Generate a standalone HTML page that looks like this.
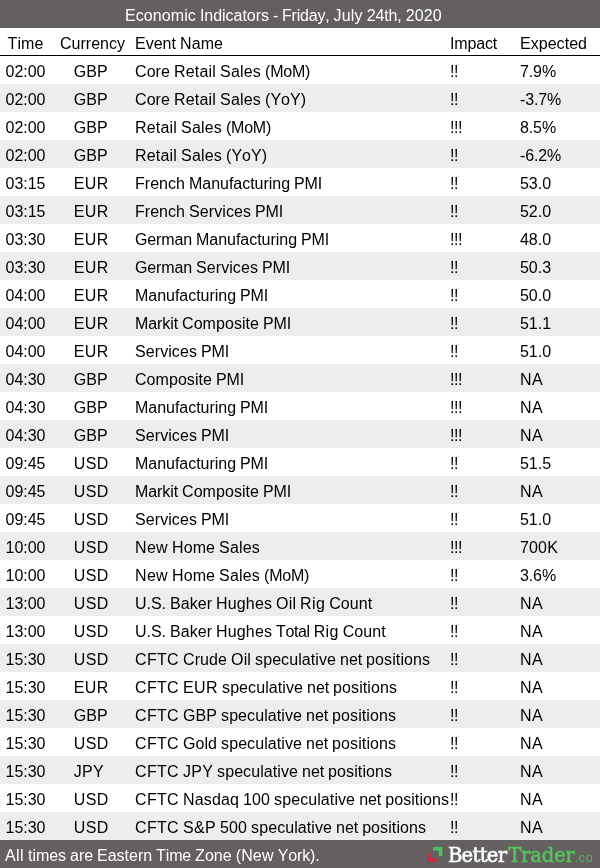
<!DOCTYPE html>
<html lang="en">
<head>
<meta charset="utf-8">
<title>Economic Indicators - Friday, July 24th, 2020</title>
<style>
html,body{margin:0;padding:0;background:#fff;}
body{width:600px;height:868px;overflow:hidden;font-family:"Liberation Sans",Arial,Helvetica,sans-serif;font-size:16px;color:#000;font-kerning:none;font-variant-ligatures:none;word-spacing:-0.4453px;}
.page{position:relative;width:600px;height:868px;overflow:hidden;background:#fff;}
.title{position:absolute;left:0;top:0;width:600px;height:28px;background:#64605f;color:#fff;line-height:32px;white-space:nowrap;overflow:hidden;}
.tt{position:absolute;left:124.9px;top:0;}
.row{position:absolute;left:0;width:600px;height:28px;line-height:32px;white-space:nowrap;}
.row.even{background:#ededed;}
.row.head{top:28px;border-bottom:1px solid #000;height:27px;}
.c{position:absolute;top:0;height:28px;}
.t{left:0;width:51px;text-align:center;}
.cur{left:73.8px;}
.head .cur{left:60px;width:62px;text-align:center;}
.ev{left:135px;}
.imp{left:450px;}
.exp{left:520px;}
.footer{position:absolute;left:0;top:840px;width:600px;height:28px;background:#64605f;color:#fff;line-height:32px;white-space:nowrap;overflow:hidden;}
.note{position:absolute;left:5px;top:0;}
.logo{position:absolute;left:0;top:0;width:600px;height:28px;}
.logo svg{position:absolute;left:420px;top:0;}
.logo span{position:absolute;top:0;line-height:32px;}
.bt{left:447.9px;font-family:"DejaVu Serif","Liberation Serif",serif;font-size:19.6px;color:#fff;-webkit-text-stroke:0.55px #fff;letter-spacing:-0.7px;}
.tr{left:508.2px;font-family:"DejaVu Serif","Liberation Serif",serif;font-size:19.6px;color:#55c45f;-webkit-text-stroke:0.55px #55c45f;letter-spacing:-0.2px;}
.co{left:574.8px;top:1.8px !important;font-size:12.5px;color:#5cc466;letter-spacing:0.6px;opacity:0.8;}
</style>
</head>
<body>
<div class="page">
<div class="title"><span class="tt"><span style="letter-spacing:.094px">Economic</span> <span style="letter-spacing:-.037px">Indicators</span> <span style="letter-spacing:-.328px">-</span> <span style="letter-spacing:-.185px">Friday,</span> <span style="letter-spacing:.137px">July</span> <span style="letter-spacing:-.117px">24th,</span> <span style="letter-spacing:.102px">2020</span></span></div>
<div class="row head"><span class="c t"><span style="letter-spacing:.111px">Time</span></span> <span class="c cur"><span style="letter-spacing:.012px">Currency</span></span> <span class="c ev"><span style="letter-spacing:.017px">Event</span> <span style="letter-spacing:.08px">Name</span></span> <span class="c imp"><span style="letter-spacing:-.169px">Impact</span></span> <span class="c exp"><span style="letter-spacing:.036px">Expected</span></span></div>
<div class="row odd" style="top:56px"><span class="c t"><span style="letter-spacing:-.008px">02:00</span></span> <span class="c cur"><span style="letter-spacing:.07px">GBP</span></span> <span class="c ev"><span style="letter-spacing:.08px">Core</span> <span style="letter-spacing:.182px">Retail</span> <span style="letter-spacing:.195px">Sales</span> <span style="letter-spacing:-.242px">(MoM)</span></span> <span class="c imp"><span style="letter-spacing:-.445px">!!</span></span> <span class="c exp"><span style="letter-spacing:-.117px">7.9%</span></span></div>
<div class="row even" style="top:84px"><span class="c t"><span style="letter-spacing:-.008px">02:00</span></span> <span class="c cur"><span style="letter-spacing:.07px">GBP</span></span> <span class="c ev"><span style="letter-spacing:.08px">Core</span> <span style="letter-spacing:.182px">Retail</span> <span style="letter-spacing:.195px">Sales</span> <span style="letter-spacing:.02px">(YoY)</span></span> <span class="c imp"><span style="letter-spacing:-.445px">!!</span></span> <span class="c exp"><span style="letter-spacing:-.159px">-3.7%</span></span></div>
<div class="row odd" style="top:112px"><span class="c t"><span style="letter-spacing:-.008px">02:00</span></span> <span class="c cur"><span style="letter-spacing:.07px">GBP</span></span> <span class="c ev"><span style="letter-spacing:.182px">Retail</span> <span style="letter-spacing:.195px">Sales</span> <span style="letter-spacing:-.242px">(MoM)</span></span> <span class="c imp"><span style="letter-spacing:-.445px">!!!</span></span> <span class="c exp"><span style="letter-spacing:-.117px">8.5%</span></span></div>
<div class="row even" style="top:140px"><span class="c t"><span style="letter-spacing:-.008px">02:00</span></span> <span class="c cur"><span style="letter-spacing:.07px">GBP</span></span> <span class="c ev"><span style="letter-spacing:.182px">Retail</span> <span style="letter-spacing:.195px">Sales</span> <span style="letter-spacing:.02px">(YoY)</span></span> <span class="c imp"><span style="letter-spacing:-.445px">!!</span></span> <span class="c exp"><span style="letter-spacing:-.159px">-6.2%</span></span></div>
<div class="row odd" style="top:168px"><span class="c t"><span style="letter-spacing:-.008px">03:15</span></span> <span class="c cur"><span style="letter-spacing:.406px">EUR</span></span> <span class="c ev"><span style="letter-spacing:.034px">French</span> <span style="letter-spacing:-.03px">Manufacturing</span> <span style="letter-spacing:-.148px">PMI</span></span> <span class="c imp"><span style="letter-spacing:-.445px">!!</span></span> <span class="c exp"><span style="letter-spacing:-.035px">53.0</span></span></div>
<div class="row even" style="top:196px"><span class="c t"><span style="letter-spacing:-.008px">03:15</span></span> <span class="c cur"><span style="letter-spacing:.406px">EUR</span></span> <span class="c ev"><span style="letter-spacing:.034px">French</span> <span style="letter-spacing:.081px">Services</span> <span style="letter-spacing:-.148px">PMI</span></span> <span class="c imp"><span style="letter-spacing:-.445px">!!</span></span> <span class="c exp"><span style="letter-spacing:-.035px">52.0</span></span></div>
<div class="row odd" style="top:224px"><span class="c t"><span style="letter-spacing:-.008px">03:30</span></span> <span class="c cur"><span style="letter-spacing:.406px">EUR</span></span> <span class="c ev"><span style="letter-spacing:-.133px">German</span> <span style="letter-spacing:-.03px">Manufacturing</span> <span style="letter-spacing:-.148px">PMI</span></span> <span class="c imp"><span style="letter-spacing:-.445px">!!!</span></span> <span class="c exp"><span style="letter-spacing:-.035px">48.0</span></span></div>
<div class="row even" style="top:252px"><span class="c t"><span style="letter-spacing:-.008px">03:30</span></span> <span class="c cur"><span style="letter-spacing:.406px">EUR</span></span> <span class="c ev"><span style="letter-spacing:-.133px">German</span> <span style="letter-spacing:.081px">Services</span> <span style="letter-spacing:-.148px">PMI</span></span> <span class="c imp"><span style="letter-spacing:-.445px">!!</span></span> <span class="c exp"><span style="letter-spacing:-.035px">50.3</span></span></div>
<div class="row odd" style="top:280px"><span class="c t"><span style="letter-spacing:-.008px">04:00</span></span> <span class="c cur"><span style="letter-spacing:.406px">EUR</span></span> <span class="c ev"><span style="letter-spacing:-.03px">Manufacturing</span> <span style="letter-spacing:-.148px">PMI</span></span> <span class="c imp"><span style="letter-spacing:-.445px">!!</span></span> <span class="c exp"><span style="letter-spacing:-.035px">50.0</span></span></div>
<div class="row even" style="top:308px"><span class="c t"><span style="letter-spacing:-.008px">04:00</span></span> <span class="c cur"><span style="letter-spacing:.406px">EUR</span></span> <span class="c ev"><span style="letter-spacing:-.092px">Markit</span> <span style="letter-spacing:.058px">Composite</span> <span style="letter-spacing:-.148px">PMI</span></span> <span class="c imp"><span style="letter-spacing:-.445px">!!</span></span> <span class="c exp"><span style="letter-spacing:-.035px">51.1</span></span></div>
<div class="row odd" style="top:336px"><span class="c t"><span style="letter-spacing:-.008px">04:00</span></span> <span class="c cur"><span style="letter-spacing:.406px">EUR</span></span> <span class="c ev"><span style="letter-spacing:.081px">Services</span> <span style="letter-spacing:-.148px">PMI</span></span> <span class="c imp"><span style="letter-spacing:-.445px">!!</span></span> <span class="c exp"><span style="letter-spacing:-.035px">51.0</span></span></div>
<div class="row even" style="top:364px"><span class="c t"><span style="letter-spacing:-.008px">04:30</span></span> <span class="c cur"><span style="letter-spacing:.07px">GBP</span></span> <span class="c ev"><span style="letter-spacing:.058px">Composite</span> <span style="letter-spacing:-.148px">PMI</span></span> <span class="c imp"><span style="letter-spacing:-.445px">!!!</span></span> <span class="c exp"><span style="letter-spacing:.387px">NA</span></span></div>
<div class="row odd" style="top:392px"><span class="c t"><span style="letter-spacing:-.008px">04:30</span></span> <span class="c cur"><span style="letter-spacing:.07px">GBP</span></span> <span class="c ev"><span style="letter-spacing:-.03px">Manufacturing</span> <span style="letter-spacing:-.148px">PMI</span></span> <span class="c imp"><span style="letter-spacing:-.445px">!!!</span></span> <span class="c exp"><span style="letter-spacing:.387px">NA</span></span></div>
<div class="row even" style="top:420px"><span class="c t"><span style="letter-spacing:-.008px">04:30</span></span> <span class="c cur"><span style="letter-spacing:.07px">GBP</span></span> <span class="c ev"><span style="letter-spacing:.081px">Services</span> <span style="letter-spacing:-.148px">PMI</span></span> <span class="c imp"><span style="letter-spacing:-.445px">!!!</span></span> <span class="c exp"><span style="letter-spacing:.387px">NA</span></span></div>
<div class="row odd" style="top:448px"><span class="c t"><span style="letter-spacing:-.008px">09:45</span></span> <span class="c cur"><span style="letter-spacing:.406px">USD</span></span> <span class="c ev"><span style="letter-spacing:-.03px">Manufacturing</span> <span style="letter-spacing:-.148px">PMI</span></span> <span class="c imp"><span style="letter-spacing:-.445px">!!</span></span> <span class="c exp"><span style="letter-spacing:-.035px">51.5</span></span></div>
<div class="row even" style="top:476px"><span class="c t"><span style="letter-spacing:-.008px">09:45</span></span> <span class="c cur"><span style="letter-spacing:.406px">USD</span></span> <span class="c ev"><span style="letter-spacing:-.092px">Markit</span> <span style="letter-spacing:.058px">Composite</span> <span style="letter-spacing:-.148px">PMI</span></span> <span class="c imp"><span style="letter-spacing:-.445px">!!</span></span> <span class="c exp"><span style="letter-spacing:.387px">NA</span></span></div>
<div class="row odd" style="top:504px"><span class="c t"><span style="letter-spacing:-.008px">09:45</span></span> <span class="c cur"><span style="letter-spacing:.406px">USD</span></span> <span class="c ev"><span style="letter-spacing:.081px">Services</span> <span style="letter-spacing:-.148px">PMI</span></span> <span class="c imp"><span style="letter-spacing:-.445px">!!</span></span> <span class="c exp"><span style="letter-spacing:-.035px">51.0</span></span></div>
<div class="row even" style="top:532px"><span class="c t"><span style="letter-spacing:-.008px">10:00</span></span> <span class="c cur"><span style="letter-spacing:.406px">USD</span></span> <span class="c ev"><span style="letter-spacing:.331px">New</span> <span style="letter-spacing:.08px">Home</span> <span style="letter-spacing:.195px">Sales</span></span> <span class="c imp"><span style="letter-spacing:-.445px">!!!</span></span> <span class="c exp"><span style="letter-spacing:.158px">700K</span></span></div>
<div class="row odd" style="top:560px"><span class="c t"><span style="letter-spacing:-.008px">10:00</span></span> <span class="c cur"><span style="letter-spacing:.406px">USD</span></span> <span class="c ev"><span style="letter-spacing:.331px">New</span> <span style="letter-spacing:.08px">Home</span> <span style="letter-spacing:.195px">Sales</span> <span style="letter-spacing:-.242px">(MoM)</span></span> <span class="c imp"><span style="letter-spacing:-.445px">!!</span></span> <span class="c exp"><span style="letter-spacing:-.117px">3.6%</span></span></div>
<div class="row even" style="top:588px"><span class="c t"><span style="letter-spacing:-.008px">13:00</span></span> <span class="c cur"><span style="letter-spacing:.406px">USD</span></span> <span class="c ev"><span style="letter-spacing:-.029px">U.S.</span> <span style="letter-spacing:.041px">Baker</span> <span style="letter-spacing:.142px">Hughes</span> <span style="letter-spacing:.148px">Oil</span> <span style="letter-spacing:.331px">Rig</span> <span style="letter-spacing:.061px">Count</span></span> <span class="c imp"><span style="letter-spacing:-.445px">!!</span></span> <span class="c exp"><span style="letter-spacing:.387px">NA</span></span></div>
<div class="row odd" style="top:616px"><span class="c t"><span style="letter-spacing:-.008px">13:00</span></span> <span class="c cur"><span style="letter-spacing:.406px">USD</span></span> <span class="c ev"><span style="letter-spacing:-.029px">U.S.</span> <span style="letter-spacing:.041px">Baker</span> <span style="letter-spacing:.142px">Hughes</span> <span style="letter-spacing:-.414px">Total</span> <span style="letter-spacing:.331px">Rig</span> <span style="letter-spacing:.061px">Count</span></span> <span class="c imp"><span style="letter-spacing:-.445px">!!</span></span> <span class="c exp"><span style="letter-spacing:.387px">NA</span></span></div>
<div class="row even" style="top:644px"><span class="c t"><span style="letter-spacing:-.008px">15:30</span></span> <span class="c cur"><span style="letter-spacing:.406px">USD</span></span> <span class="c ev"><span style="letter-spacing:.336px">CFTC</span> <span style="letter-spacing:.084px">Crude</span> <span style="letter-spacing:.148px">Oil</span> <span style="letter-spacing:.087px">speculative</span> <span style="letter-spacing:-.081px">net</span> <span style="letter-spacing:.095px">positions</span></span> <span class="c imp"><span style="letter-spacing:-.445px">!!</span></span> <span class="c exp"><span style="letter-spacing:.387px">NA</span></span></div>
<div class="row odd" style="top:672px"><span class="c t"><span style="letter-spacing:-.008px">15:30</span></span> <span class="c cur"><span style="letter-spacing:.406px">EUR</span></span> <span class="c ev"><span style="letter-spacing:.336px">CFTC</span> <span style="letter-spacing:.406px">EUR</span> <span style="letter-spacing:.087px">speculative</span> <span style="letter-spacing:-.081px">net</span> <span style="letter-spacing:.095px">positions</span></span> <span class="c imp"><span style="letter-spacing:-.445px">!!</span></span> <span class="c exp"><span style="letter-spacing:.387px">NA</span></span></div>
<div class="row even" style="top:700px"><span class="c t"><span style="letter-spacing:-.008px">15:30</span></span> <span class="c cur"><span style="letter-spacing:.07px">GBP</span></span> <span class="c ev"><span style="letter-spacing:.336px">CFTC</span> <span style="letter-spacing:.07px">GBP</span> <span style="letter-spacing:.087px">speculative</span> <span style="letter-spacing:-.081px">net</span> <span style="letter-spacing:.095px">positions</span></span> <span class="c imp"><span style="letter-spacing:-.445px">!!</span></span> <span class="c exp"><span style="letter-spacing:.387px">NA</span></span></div>
<div class="row odd" style="top:728px"><span class="c t"><span style="letter-spacing:-.008px">15:30</span></span> <span class="c cur"><span style="letter-spacing:.406px">USD</span></span> <span class="c ev"><span style="letter-spacing:.336px">CFTC</span> <span style="letter-spacing:.051px">Gold</span> <span style="letter-spacing:.087px">speculative</span> <span style="letter-spacing:-.081px">net</span> <span style="letter-spacing:.095px">positions</span></span> <span class="c imp"><span style="letter-spacing:-.445px">!!</span></span> <span class="c exp"><span style="letter-spacing:.387px">NA</span></span></div>
<div class="row even" style="top:756px"><span class="c t"><span style="letter-spacing:-.008px">15:30</span></span> <span class="c cur"><span style="letter-spacing:.219px">JPY</span></span> <span class="c ev"><span style="letter-spacing:.336px">CFTC</span> <span style="letter-spacing:.219px">JPY</span> <span style="letter-spacing:.087px">speculative</span> <span style="letter-spacing:-.081px">net</span> <span style="letter-spacing:.095px">positions</span></span> <span class="c imp"><span style="letter-spacing:-.445px">!!</span></span> <span class="c exp"><span style="letter-spacing:.387px">NA</span></span></div>
<div class="row odd" style="top:784px"><span class="c t"><span style="letter-spacing:-.008px">15:30</span></span> <span class="c cur"><span style="letter-spacing:.406px">USD</span></span> <span class="c ev"><span style="letter-spacing:.336px">CFTC</span> <span style="letter-spacing:.142px">Nasdaq</span> <span style="letter-spacing:.102px">100</span> <span style="letter-spacing:.087px">speculative</span> <span style="letter-spacing:-.081px">net</span> <span style="letter-spacing:.095px">positions</span></span> <span class="c imp"><span style="letter-spacing:-.445px">!!</span></span> <span class="c exp"><span style="letter-spacing:.387px">NA</span></span></div>
<div class="row even" style="top:812px"><span class="c t"><span style="letter-spacing:-.008px">15:30</span></span> <span class="c cur"><span style="letter-spacing:.406px">USD</span></span> <span class="c ev"><span style="letter-spacing:.336px">CFTC</span> <span style="letter-spacing:.328px">S&amp;P</span> <span style="letter-spacing:.102px">500</span> <span style="letter-spacing:.087px">speculative</span> <span style="letter-spacing:-.081px">net</span> <span style="letter-spacing:.095px">positions</span></span> <span class="c imp"><span style="letter-spacing:-.445px">!!</span></span> <span class="c exp"><span style="letter-spacing:.387px">NA</span></span></div>
<div class="footer"><span class="note"><span style="letter-spacing:.406px">All</span> <span style="letter-spacing:-.045px">times</span> <span style="letter-spacing:-.042px">are</span> <span style="letter-spacing:-.02px">Eastern</span> <span style="letter-spacing:-.139px">Time</span> <span style="letter-spacing:.008px">Zone</span> <span style="letter-spacing:.166px">(New</span> <span style="letter-spacing:-.112px">York).</span></span> <span class="logo"><svg width="30" height="28" viewBox="0 0 30 28"><path d="M13 7h9.3v9.3h-3.6v-5.8h-5.7z" fill="#4fc25a"/><path d="M7 13h3.5v5.5h6v3.5h-9.5z" fill="#cc2a3c"/></svg><span class="bt">Better</span><span class="tr">Trader</span><span class="co">.co</span></span></div>
</div>
</body>
</html>
